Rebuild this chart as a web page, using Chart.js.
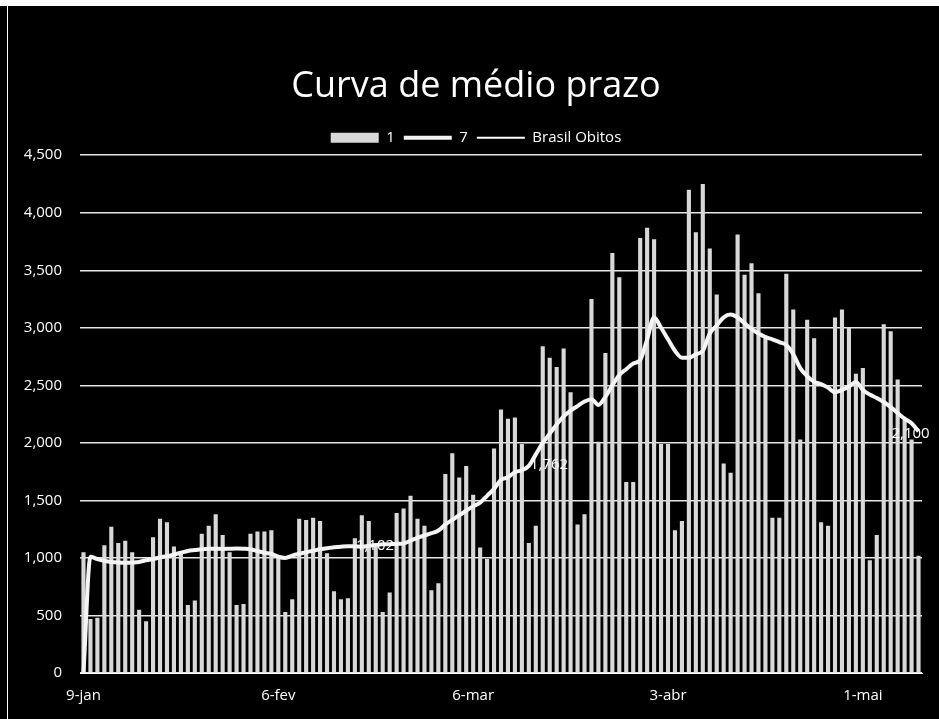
<!DOCTYPE html>
<html>
<head>
<meta charset="utf-8">
<script src="https://cdn.jsdelivr.net/npm/chart.js@4/dist/chart.umd.min.js"></script>
<style>
  html, body { margin: 0; padding: 0; background: #000; }
  #wrap { width: 939px; height: 719px; position: relative; }
</style>
</head>
<body>
<div id="wrap"><canvas id="c"></canvas></div>
<script>
// ---- data ----
const startDay = '2021-01-09';
const dayCount = 121;
const tickLabels = ['9-jan', '6-fev', '6-mar', '3-abr', '1-mai'];
const yTicks = [0, 500, 1000, 1500, 2000, 2500, 3000, 3500, 4000, 4500];

// daily deaths (series "1")
const daily = [
  1050, 470, 480, 1110, 1270, 1130, 1150, 1050, 550, 450,
  1180, 1340, 1310, 1100, 1040, 590, 630, 1210, 1280, 1380,
  1200, 1050, 590, 600, 1210, 1230, 1230, 1240, 1010, 530,
  640, 1340, 1330, 1350, 1320, 1040, 710, 640, 650, 1170,
  1370, 1320, 1100, 530, 700, 1390, 1430, 1540, 1340, 1280,
  720, 780, 1730, 1910, 1700, 1800, 1550, 1090, 990, 1950,
  2290, 2210, 2220, 1990, 1130, 1280, 2840, 2740, 2660, 2820,
  2440, 1290, 1380, 3250, 2010, 2780, 3650, 3440, 1660, 1660,
  3780, 3870, 3770, 1990, 1990, 1240, 1320, 4200, 3830, 4250,
  3690, 3290, 1820, 1740, 3810, 3460, 3560, 3300, 2930, 1350,
  1350, 3470, 3160, 2030, 3070, 2910, 1310, 1280, 3090, 3160,
  3000, 2600, 2650, 980, 1200, 3030, 2970, 2550, 2200, 2030,
  1020
];

// 7-day average (series "7")
const avg7 = [
  0, 1010, 990, 975, 965, 960, 958, 960, 965, 980,
  990, 1005, 1015, 1030, 1045, 1060, 1068, 1075, 1079, 1080,
  1078, 1080, 1082, 1080, 1076, 1060, 1045, 1035, 1010, 1000,
  1020, 1036, 1050, 1062, 1075, 1085, 1092, 1098, 1102, 1100,
  1098, 1105, 1112, 1118, 1120, 1122, 1125, 1150, 1175, 1195,
  1215, 1238, 1290, 1330, 1372, 1410, 1450, 1480, 1540, 1600,
  1680, 1700, 1745, 1762, 1800, 1900, 2000, 2080, 2160, 2230,
  2280, 2320, 2360, 2380, 2330, 2400, 2500, 2590, 2640, 2690,
  2720, 2900, 3090, 3000, 2900, 2800, 2740, 2740, 2770, 2800,
  2950, 3020, 3090, 3115, 3090, 3040, 2990, 2950, 2920, 2900,
  2875, 2850, 2770, 2650, 2580, 2530, 2510, 2480, 2440, 2460,
  2490, 2530, 2460, 2420, 2390, 2355, 2310, 2260, 2210, 2170,
  2100
];

// "Brasil Obitos" (legend entry only, no visible values)
const brasilObitos = [];

// points of the 7-day line that carry a value label
const labelledPoints = [38, 63, 120];

// ---- categories ----
const mesesPt = ['jan','fev','mar','abr','mai','jun','jul','ago','set','out','nov','dez'];
const categories = [];
{
  const d0 = new Date(startDay + 'T12:00:00Z');
  for (let i = 0; i < dayCount; i++) {
    const d = new Date(d0.getTime() + i * 86400000);
    categories.push(d.getUTCDate() + '-' + mesesPt[d.getUTCMonth()]);
  }
}

const fmt = v => v.toLocaleString('en-US');

const bgPlugin = {
  id: 'bg',
  beforeDraw(chart) {
    const ctx = chart.ctx;
    ctx.save();
    ctx.fillStyle = '#000';
    ctx.fillRect(0, 0, chart.width, chart.height);
    ctx.fillStyle = '#fff';
    ctx.fillRect(0, 0, chart.width, 6);
    ctx.fillRect(7, 0, 1, chart.height);
    ctx.restore();
  }
};

// shift the title and legend block so they are centred like the reference
const headerShift = {
  id: 'headerShift',
  afterLayout(chart) {
    if (chart.titleBlock) { chart.titleBlock.left = 30; }
    if (chart.legend) {
      const lg = chart.legend;
      const dx = 15;
      lg.left += 2 * dx;
      if (lg.legendHitBoxes) lg.legendHitBoxes.forEach(b => { b.left += dx; });
    }
  }
};

const labelPlugin = {
  id: 'pointLabels',
  afterDatasetsDraw(chart) {
    const meta = chart.getDatasetMeta(1);
    const ctx = chart.ctx;
    ctx.save();
    ctx.font = '15px "Open Sans", sans-serif';
    ctx.fillStyle = '#fff';
    ctx.textBaseline = 'middle';
    labelledPoints.forEach((i, k) => {
      const p = meta.data[i];
      if (!p) return;
      const last = k === labelledPoints.length - 1;
      ctx.textAlign = last ? 'center' : 'left';
      const x = last ? p.x - 8 : p.x + 8;
      const y = last ? p.y + 2 : p.y + (k === 1 ? -6 : 0);
      ctx.fillText(fmt(avg7[i]), x, y);
    });
    ctx.restore();
  }
};

new Chart(document.getElementById('c'), {
  data: {
    labels: categories,
    datasets: [
      {
        type: 'bar',
        label: '1',
        data: daily,
        backgroundColor: '#d8d8d8',
        borderWidth: 0,
        barPercentage: 0.9,
        categoryPercentage: 0.66,
        order: 2,
        pointStyle: 'rect'
      },
      {
        type: 'line',
        label: '7',
        data: avg7,
        borderColor: '#f4f4f4',
        backgroundColor: '#f4f4f4',
        borderWidth: 4,
        pointRadius: 0,
        cubicInterpolationMode: 'monotone',
        order: 0,
        pointStyle: 'line'
      },
      {
        type: 'line',
        label: 'Brasil Obitos',
        data: brasilObitos,
        borderColor: '#ffffff',
        backgroundColor: '#ffffff',
        borderWidth: 2,
        pointRadius: 0,
        order: 1,
        pointStyle: 'line'
      }
    ]
  },
  options: {
    responsive: true,
    maintainAspectRatio: false,
    animation: false,
    layout: { padding: { left: 0, right: 17, top: 0, bottom: 0 } },
    plugins: {
      title: {
        display: true,
        text: 'Curva de médio prazo',
        color: '#fff',
        font: { family: '"Open Sans", sans-serif', size: 36, weight: 'normal' },
        padding: { top: 65, bottom: 13 }
      },
      legend: {
        display: true,
        position: 'top',
        labels: {
          color: '#fff',
          font: { family: '"Open Sans", sans-serif', size: 15 },
          usePointStyle: true,
          pointStyleWidth: 48,
          boxHeight: 10,
          padding: 9,
          sort: (a, b) => a.datasetIndex - b.datasetIndex
        }
      },
      tooltip: { enabled: false }
    },
    scales: {
      x: {
        type: 'category',
        grid: { display: false, drawTicks: false },
        border: { display: true, color: '#ffffff', width: 1 },
        ticks: {
          color: '#fff',
          font: { family: '"Open Sans", sans-serif', size: 15 },
          autoSkip: false,
          maxRotation: 0,
          padding: 14,
          callback: function (val, idx) {
            const lab = categories[idx];
            return tickLabels.includes(lab) ? lab : '';
          }
        }
      },
      y: {
        type: 'linear',
        min: yTicks[0],
        max: yTicks[yTicks.length - 1],
        afterFit(scale) { scale.width = 80; },
        afterBuildTicks(scale) { scale.ticks = yTicks.map(v => ({ value: v })); },
        grid: { color: '#e6e6e6', lineWidth: 1.5, drawTicks: false },
        border: { display: false },
        ticks: {
          color: '#fff',
          font: { family: '"Open Sans", sans-serif', size: 15 },
          padding: 18,
          callback: v => fmt(v)
        }
      }
    }
  },
  plugins: [bgPlugin, headerShift, labelPlugin]
});
</script>
</body>
</html>
